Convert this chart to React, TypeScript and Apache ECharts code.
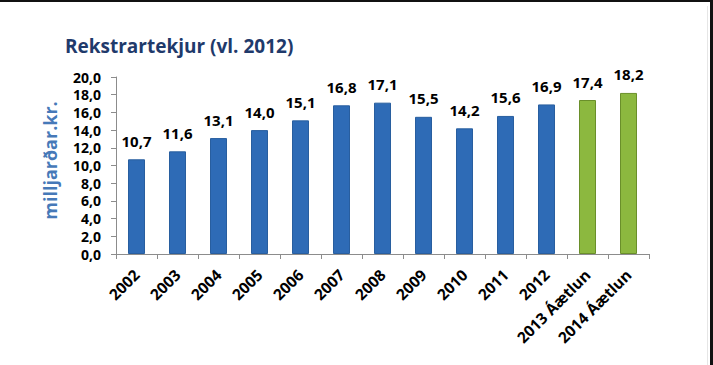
import React, { useEffect, useRef } from "react";
import * as echarts from "echarts";

const categories = ["2002", "2003", "2004", "2005", "2006", "2007", "2008", "2009", "2010", "2011", "2012", "2013 Áætlun", "2014 Áætlun"];
const values = [10.7, 11.6, 13.1, 14.0, 15.1, 16.8, 17.1, 15.5, 14.2, 15.6, 16.9, 17.4, 18.2];
const isForecast = [false, false, false, false, false, false, false, false, false, false, false, true, true];
const title = "Rekstrartekjur (vl. 2012)";
const yAxisName = "milljarðar.kr.";

const FONT = "'Open Sans', sans-serif";

export default function App() {
  const ref = useRef<HTMLDivElement>(null);
  useEffect(() => {
    if (!ref.current) return;
    const chart = echarts.init(ref.current, null, { renderer: "svg" });
    const fmt = (v: number) => v.toFixed(1).replace(".", ",");
    chart.setOption({
      animation: false,
      backgroundColor: "#ffffff",
      title: {
        text: title,
        left: 60,
        top: 31,
        textStyle: { fontFamily: FONT, fontSize: 19, fontWeight: "bold", color: "#1F3A6B" },
      },
      grid: { left: 116, right: 64, top: 77, bottom: 111 },
      xAxis: {
        type: "category",
        data: categories,
        axisLine: { lineStyle: { color: "#8c8c8c" } },
        axisTick: { show: true, alignWithLabel: false, lineStyle: { color: "#8c8c8c" }, length: 5 },
        axisLabel: {
          rotate: 45,
          interval: 0,
          fontFamily: FONT,
          fontSize: 15.5,
          fontWeight: "bold",
          color: "#000",
          margin: 18,
        },
      },
      yAxis: {
        type: "value",
        min: 0,
        max: 20,
        interval: 2,
        name: yAxisName,
        nameLocation: "middle",
        nameGap: 57,
        nameTextStyle: { fontFamily: FONT, fontSize: 18, fontWeight: "bold", color: "#4679B8", padding: [0, 0, 0, 10] },
        axisLine: { show: true, lineStyle: { color: "#8c8c8c" } },
        axisTick: { show: true, inside: false, length: 5, lineStyle: { color: "#8c8c8c" } },
        splitLine: { show: false },
        axisLabel: {
          formatter: (v: number) => fmt(v),
          fontFamily: FONT,
          fontSize: 14,
          lineHeight: 16,
          fontWeight: "bold",
          color: "#000",
          margin: 15,
        },
      },
      series: [
        {
          type: "bar",
          barWidth: 17,
          data: values.map((v, i) => ({
            value: v,
            itemStyle: isForecast[i]
              ? { color: "#8CB83F", borderColor: "#6A8F2A", borderWidth: 1 }
              : { color: "#2E6BB6", borderColor: "#285E9F", borderWidth: 1 },
          })),
          label: {
            show: true,
            position: "top",
            distance: 11,
            formatter: (p: any) => fmt(p.value),
            fontFamily: FONT,
            fontSize: 15,
            fontWeight: "bold",
            color: "#000",
          },
        },
      ],
      graphic: [
        { type: "rect", shape: { x: 0, y: 0, width: 713, height: 2 }, style: { fill: "#111" } },
        { type: "rect", shape: { x: 710, y: 0, width: 3, height: 365 }, style: { fill: "#111" } },
        { type: "line", shape: { x1: 707.5, y1: 6, x2: 707.5, y2: 365 }, style: { stroke: "#e6e6e6", lineWidth: 1 } },
      ],
    });
    return () => chart.dispose();
  }, []);
  return <div ref={ref} style={{ position: "fixed", left: 0, top: 0, width: 713, height: 365 }} />;
}
